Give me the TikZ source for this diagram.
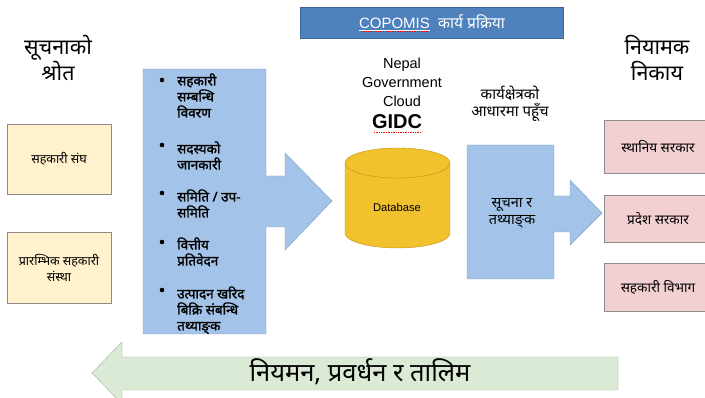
\documentclass[tikz,border=0pt]{standalone}
\usepackage{fontspec}
\setmainfont{Liberation Sans}
\newfontfamily\dev[Script=Devanagari]{Noto Sans}
\newfontfamily\devbold[Script=Devanagari, FakeBold=1.6]{Noto Sans}
\usetikzlibrary{positioning}

\definecolor{titlefill}{HTML}{4F81BD}
\definecolor{titleline}{HTML}{3A6596}
\definecolor{srcfill}{HTML}{FFF2CC}
\definecolor{arrowfill}{HTML}{A3C4E8}
\definecolor{arrowline}{HTML}{7E9CC0}
\definecolor{dbfill}{HTML}{F2C12E}
\definecolor{dbline}{HTML}{BF9000}
\definecolor{regfill}{HTML}{F2D0D2}
\definecolor{backfill}{HTML}{DAEAD4}
\definecolor{backline}{HTML}{9DB598}

\tikzset{
  srcbox/.style={draw=black!45, fill=srcfill, minimum width=104pt, align=center,
    font=\dev\fontsize{12.5}{16}\selectfont},
  regbox/.style={draw=black!45, fill=regfill, minimum width=108pt, align=center,
    font=\dev\fontsize{13.5}{16}\selectfont},
  heading/.style={align=center, font=\dev\fontsize{21.5}{26}\selectfont},
  item/.style={anchor=base west, align=left, inner sep=0pt,
    font=\devbold\fontsize{13.5}{16}\selectfont},
  dot/.style={circle, fill=black, inner sep=0pt, minimum size=4.6pt},
  label/.style={align=center, font=\dev\fontsize{15}{17.5}\selectfont},
  spell/.style={red, densely dotted, line width=0.7pt}
}

\begin{document}
\begin{tikzpicture}[x=1pt,y=-1pt]
    \useasboundingbox (0,0) rectangle (705,398);
    \clip (0,0) rectangle (705,398);

    % title bar
    \draw[fill=titlefill, draw=titleline] (300,7) rectangle (563,38);
    \node[text=white] (title) at (432,23) {\fontsize{15}{16}\selectfont\underline{COPOMIS}\ \ {\dev\fontsize{15.5}{16}\selectfont कार्य प्रक्रिया}};
    \draw[spell] (361,31.5) -- (429,31.5);

    % headings
    \node[heading] (srchead) at (58,58) {सूचनाको\\श्रोत};
    \node[heading] (reghead) at (657,58) {नियामक\\निकाय};

    % sources
    \node[srcbox, minimum height=70pt] (sangh) at (59,159) {सहकारी संघ};
    \node[srcbox, minimum height=71pt] (sanstha) at (59,267.5) {प्रारम्भिक सहकारी\\संस्था};

    % big arrow with list
    \draw[fill=arrowfill, draw=arrowline] (143,69) -- (266,69) -- (266,176) -- (285,176) -- (285,153)
        -- (332,201) -- (285,250) -- (285,227) -- (266,227) -- (266,334) -- (143,334) -- cycle;

    \node[dot] (b1) at (162,80) {};
    \node[item] (i1) at (177,117.5) {सहकारी\\सम्बन्धि\\विवरण};
    \node[dot] (b2) at (162,145) {};
    \node[item] (i2) at (177,169.5) {सदस्यको\\जानकारी};
    \node[dot] (b3) at (162,193) {};
    \node[item] (i3) at (177,217.5) {समिति / उप-\\समिति};
    \node[dot] (b4) at (162,242) {};
    \node[item] (i4) at (177,265.5) {वित्तीय\\प्रतिवेदन};
    \node[dot] (b5) at (162,290) {};
    \node[item] (i5) at (177,330.5) {उत्पादन खरिद\\बिक्रि संबन्धि\\तथ्याङ्^^^^200cक};

    % cloud and database
    \node[align=center, font=\fontsize{14.5}{19}\selectfont] (cloud) at (402,82) {Nepal\\Government\\Cloud};
    \node[font=\bfseries\fontsize{20}{22}\selectfont] (gidc) at (397,122) {GIDC};
    \draw[spell] (374,132) -- (421,132);

    \fill[dbfill] (345,163) rectangle (450,233);
    \fill[dbfill] (397.5,233) ellipse [x radius=52.5, y radius=15];
    \draw[dbline] (345,163) -- (345,233) arc[start angle=180, end angle=0, x radius=52.5, y radius=15] -- (450,163);
    \draw[dbline, fill=dbfill] (397.5,163) ellipse [x radius=52.5, y radius=15];
    \node[font=\fontsize{11.2}{12}\selectfont] (db) at (397,207) {Database};

    % access arrow
    \node[label] (access) at (510,104) {कार्यक्षेत्रको\\आधारमा पहूँच};
    \draw[fill=arrowfill, draw=arrowline] (467,145) -- (554,145) -- (554,196) -- (570,196) -- (570,180)
        -- (602,213) -- (570,245) -- (570,232) -- (554,232) -- (554,279) -- (467,279) -- cycle;
    \node[label, font=\dev\fontsize{14.5}{17}\selectfont] (data) at (512,213) {सूचना र\\तथ्याङ्^^^^200cक};

    % regulators
    \node[regbox, minimum height=53pt] (local) at (658,146.5) {स्थानिय सरकार};
    \node[regbox, minimum height=47pt] (prov) at (658,218.5) {प्रदेश सरकार};
    \node[regbox, minimum height=48pt] (dept) at (658,287) {सहकारी विभाग};

    % feedback arrow
    \draw[fill=backfill, draw=backline] (618,357) -- (122,357) -- (122,342) -- (92,373) -- (122,404)
        -- (122,390) -- (618,390) -- cycle;
    \node[font=\dev\fontsize{25.5}{28}\selectfont] (back) at (360,372) {नियमन, प्रवर्धन र तालिम};
\end{tikzpicture}
\end{document}
